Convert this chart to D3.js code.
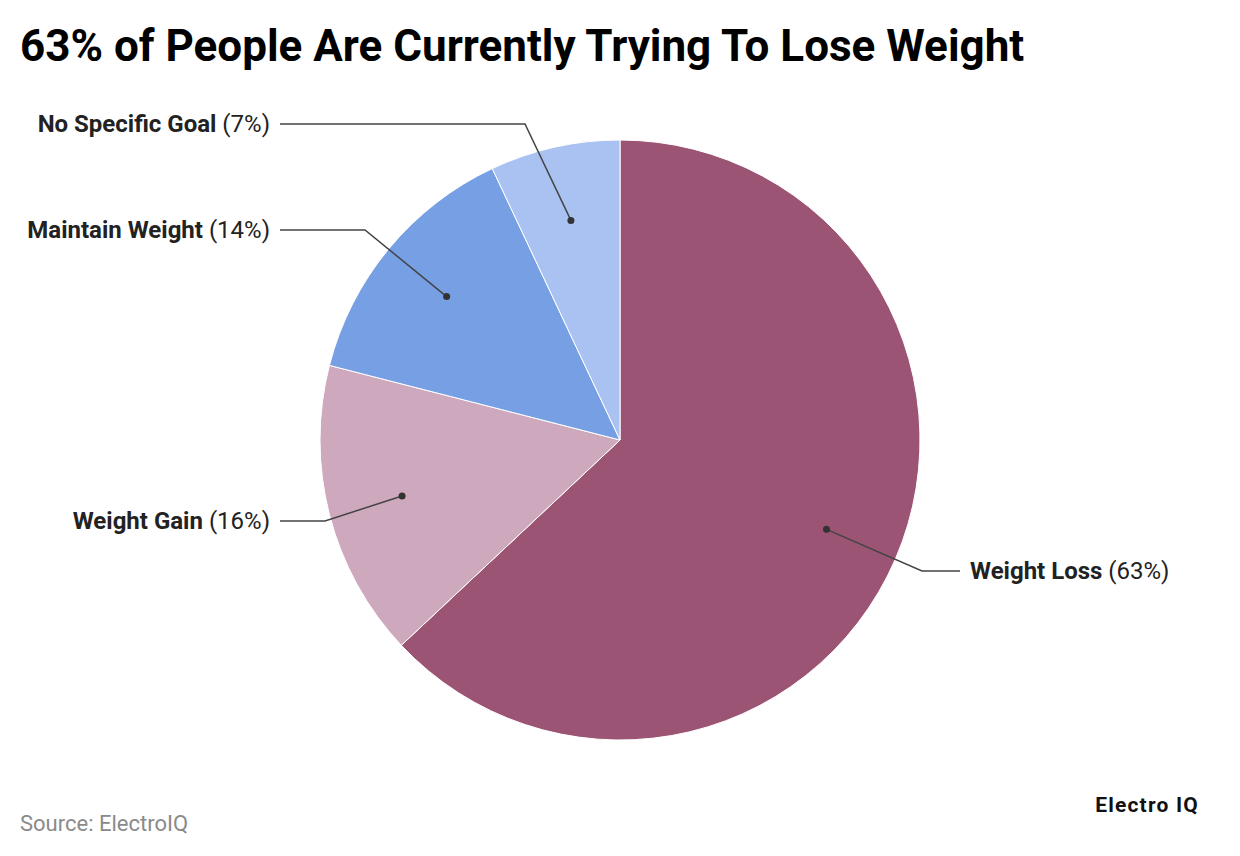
<!DOCTYPE html>
<html><head><meta charset="utf-8">
<script src="https://cdn.jsdelivr.net/npm/d3@7"></script>
<style>body{margin:0;background:#fff;font-family:Roboto,sans-serif;}</style>
</head><body><svg id="c" width="1240" height="856"></svg>
<script>
const categories = ["Weight Loss", "Weight Gain", "Maintain Weight", "No Specific Goal"];
const values = [63, 16, 14, 7];
const colors = ["#9c5474", "#cea8bd", "#779fe4", "#a9c2f2"];

const svg = d3.select("#c");
const cx = 620, cy = 440, R = 300;
svg.append("text").attr("x", 20).attr("y", 61).attr("font-size", 44).attr("font-weight", 700)
  .attr("fill", "#000").text("63% of People Are Currently Trying To Lose Weight");

const data = categories.map((c, i) => ({name: c, value: values[i], color: colors[i]}));
const pie = d3.pie().value(d => d.value).sort(null);
const arcs = pie(data);
const arc = d3.arc().innerRadius(0).outerRadius(R);
const g = svg.append("g").attr("transform", `translate(${cx},${cy})`);
g.selectAll("path").data(arcs).join("path").attr("d", arc)
  .attr("fill", d => d.data.color).attr("stroke", "#fff").attr("stroke-width", 1);

const dotArc = d3.arc().innerRadius(R * 0.75).outerRadius(R * 0.75);
const elbows = [[302, 131], [-295, 81], [-255, -210], [-95, -316]];
const ends = [[340, 131], [-340, 81], [-340, -210], [-340, -316]];
arcs.forEach((a, i) => {
  const [dx, dy] = dotArc.centroid(a);
  const el = elbows[i], en = ends[i];
  g.append("polyline").attr("points", [[dx, dy], el, en].map(p => p.join(",")).join(" "))
    .attr("fill", "none").attr("stroke", "#444").attr("stroke-width", 1.5);
  g.append("circle").attr("cx", dx).attr("cy", dy).attr("r", 3.5).attr("fill", "#333");
  const right = en[0] > 0;
  const t = g.append("text").attr("x", right ? en[0] + 10 : en[0] - 10).attr("y", en[1])
    .attr("dy", "0.35em").attr("text-anchor", right ? "start" : "end")
    .attr("font-size", 24).attr("fill", "#222");
  t.append("tspan").attr("font-weight", 700).text(a.data.name + " ");
  t.append("tspan").attr("font-weight", 400).text(`(${a.data.value}%)`);
});

svg.append("text").attr("x", 20).attr("y", 831).attr("font-size", 22).attr("fill", "#8a8a8a")
  .text("Source: ElectroIQ");
svg.append("text").attr("x", 1199).attr("y", 812).attr("text-anchor", "end").attr("font-size", 21)
  .attr("font-weight", 700).attr("letter-spacing", 1.2).attr("fill", "#111").text("Electro IQ");
</script></body></html>
